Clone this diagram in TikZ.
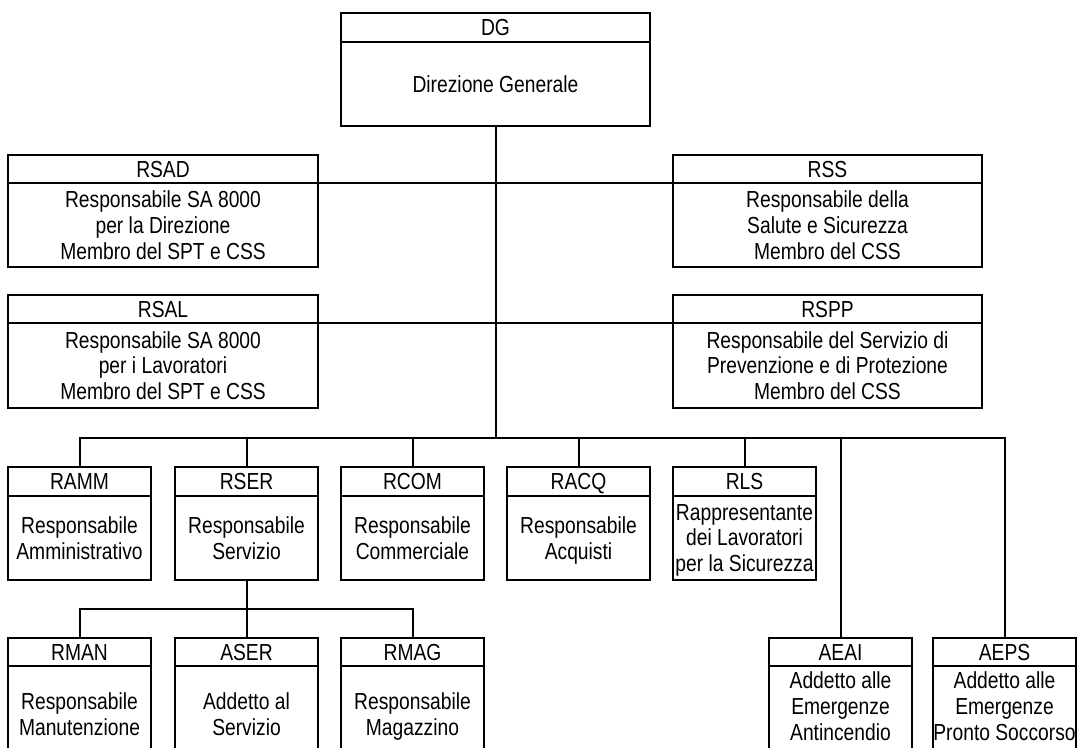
\documentclass[tikz,border=0pt]{standalone}
\usepackage{fontspec}
\setmainfont[FakeStretch=0.83]{Liberation Sans}
\tikzset{
  orgpart/.style={draw=black, line width=1.5pt, fill=white, align=center,
    inner xsep=0pt, inner ysep=0pt, outer sep=0pt,
    font=\fontsize{17.4pt}{19.4pt}\selectfont},
  link/.style={draw=black, line width=1.5pt}
}
% [#1 extra body options], #2 name, #3 left x, #4 top y, #5 width, #6 header h, #7 body h, #8 title, #9 body
\newcommand{\orgbox}[9][]{%
  \node[orgpart, anchor=north west, minimum width=#5*0.75pt,
        minimum height=#6*0.75pt, text height=12.5pt, text depth=0pt] (#2) at (#3,#4) {#8};
  \node[orgpart, anchor=north, minimum width=#5*0.75pt,
        minimum height=#7*0.75pt, text depth=0pt, #1] (#2b) at (#2.south) {#9};
}
\begin{document}
\begin{tikzpicture}[x=0.75pt,y=-0.75pt]
\useasboundingbox (0,0) rectangle (1077,747);
\clip (0,0) rectangle (1077,747);

\coordinate (bus1) at (495.5,438);
\coordinate (bus2) at (246.5,609);

\orgbox{DG}{341}{13}{309}{29}{84}{DG}{Direzione Generale}
\orgbox{RSAD}{8}{155}{310}{28}{84}{RSAD}{Responsabile SA 8000\\per la Direzione\\Membro del SPT e CSS}
\orgbox{RSS}{673}{155}{309}{28}{84}{RSS}{Responsabile della\\Salute e Sicurezza\\Membro del CSS}
\orgbox{RSAL}{8}{295}{310}{28}{85}{RSAL}{Responsabile SA 8000\\per i Lavoratori\\Membro del SPT e CSS}
\orgbox{RSPP}{673}{295}{309}{28}{85}{RSPP}{Responsabile del Servizio di\\Prevenzione e di Protezione\\Membro del CSS}

\orgbox{RAMM}{8}{467}{143}{29}{84}{RAMM}{Responsabile\\Amministrativo}
\orgbox{RSER}{175}{467}{143}{29}{84}{RSER}{Responsabile\\Servizio}
\orgbox{RCOM}{341}{467}{143}{29}{84}{RCOM}{Responsabile\\Commerciale}
\orgbox{RACQ}{507}{467}{143}{29}{84}{RACQ}{Responsabile\\Acquisti}
\orgbox{RLS}{673}{467}{143}{29}{84}{RLS}{\makebox[105pt]{Rappresentante}\\dei Lavoratori\\\makebox[105pt]{per la Sicurezza}}

\orgbox{RMAN}{8}{638}{143}{28}{96}{RMAN}{Responsabile\\Manutenzione}
\orgbox{ASER}{175}{638}{143}{28}{96}{ASER}{Addetto al\\Servizio}
\orgbox{RMAG}{341}{638}{143}{28}{96}{RMAG}{Responsabile\\Magazzino}
\orgbox[text depth=12pt]{AEAI}{769}{638}{143}{28}{96}{AEAI}{Addetto alle\\Emergenze\\Antincendio}
\orgbox[text depth=12pt]{AEPS}{933}{638}{143}{28}{96}{AEPS}{Addetto alle\\Emergenze\\\makebox[105pt]{Pronto Soccorso}}

% connectors
\draw[link] (DGb.south) -- (bus1);
\draw[link] (RSAD.south east) -- (RSS.south west);
\draw[link] (RSAL.south east) -- (RSPP.south west);
\draw[link] (RAMM.north) |- (AEPS.north |- bus1) -- (AEPS.north);
\draw[link] (RSER.north) -- (RSER.north |- bus1);
\draw[link] (RCOM.north) -- (RCOM.north |- bus1);
\draw[link] (RACQ.north) -- (RACQ.north |- bus1);
\draw[link] (RLS.north) -- (RLS.north |- bus1);
\draw[link] (AEAI.north) -- (AEAI.north |- bus1);
\draw[link] (RSERb.south) -- (bus2);
\draw[link] (RMAN.north) |- (RMAG.north |- bus2) -- (RMAG.north);
\draw[link] (ASER.north) -- (ASER.north |- bus2);
\end{tikzpicture}
\end{document}
